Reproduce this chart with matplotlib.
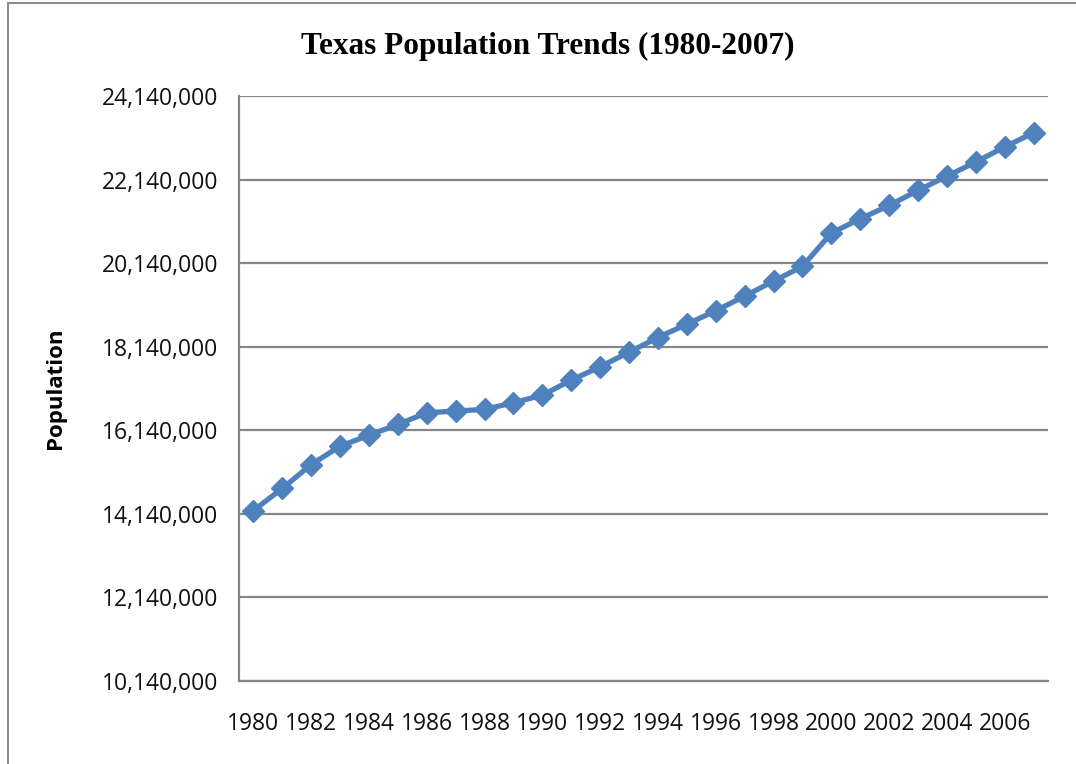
import matplotlib
matplotlib.use("Agg")
import matplotlib.pyplot as plt
from matplotlib.patches import Rectangle
from matplotlib.ticker import FuncFormatter

years = list(range(1980, 2008))
population = [14220000, 14750000, 15320000, 15760000, 16020000, 16280000, 16560000,
              16600000, 16640000, 16800000, 16980000, 17340000, 17660000, 18010000,
              18360000, 18680000, 19000000, 19350000, 19710000, 20060000, 20860000,
              21200000, 21520000, 21880000, 22220000, 22560000, 22920000, 23260000]
yticks = [10140000, 12140000, 14140000, 16140000, 18140000, 20140000, 22140000, 24140000]
xlabels = [str(y) if y % 2 == 0 else "" for y in years]

W, H = 1076, 764
fig = plt.figure(figsize=(W / 100, H / 100), dpi=100)
fig.patch.set_facecolor("white")

# outer chart frame (cropped on right/bottom)
fig.add_artist(Rectangle((8 / W, -0.1), 1.2, 1.1 - 3 / H, transform=fig.transFigure,
                         fill=False, edgecolor="#8c8c8c", linewidth=1.5))

ax = fig.add_axes([239 / W, 1 - 681 / H, (1048 - 239) / W, (681 - 96) / H])
x = list(range(len(years)))
ax.plot(x, population, color="#4F81BD", linewidth=3.8, marker="D", markersize=11,
        markeredgecolor="#4F81BD", markerfacecolor="#4F81BD", zorder=3)

ax.set_xlim(-0.5, len(years) - 0.5)
ax.set_ylim(yticks[0], yticks[-1])
ax.set_yticks(yticks)
ax.yaxis.set_major_formatter(FuncFormatter(lambda v, p: f"{int(v):,}"))
ax.set_xticks(x)
ax.set_xticklabels(xlabels)
ax.tick_params(length=0, labelsize=16.5)
ax.tick_params(axis="y", pad=15)
ax.tick_params(axis="x", pad=22)
for lab in ax.get_xticklabels() + ax.get_yticklabels():
    lab.set_family("Open Sans")
    lab.set_color("#111111")

ax.grid(axis="y", color="#868686", linewidth=1.6)
ax.set_axisbelow(True)
for s in ["top", "right"]:
    ax.spines[s].set_visible(False)
for s in ["left", "bottom"]:
    ax.spines[s].set_color("#868686")
    ax.spines[s].set_linewidth(1.6)

ax.set_ylabel("Population", family="Open Sans", fontweight="bold", fontsize=16, labelpad=26)
fig.text(548 / W, 1 - 46 / H, "Texas Population Trends (1980-2007)", ha="center", va="center",
         family="Liberation Serif", fontweight="bold", fontsize=22.5)

fig.savefig("out.png", dpi=100)
